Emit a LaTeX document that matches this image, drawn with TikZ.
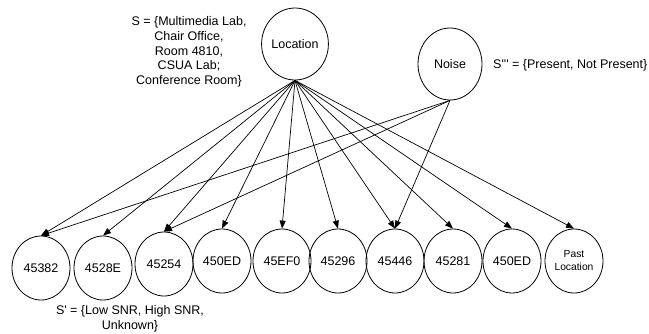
\documentclass[tikz,border=0pt]{standalone}
\usepackage{fontspec}
\setmainfont{Liberation Sans}
\usetikzlibrary{shapes}
\usetikzlibrary{arrows.meta}

\begin{document}
\begin{tikzpicture}[x=1pt,y=-1pt,
  var/.style={ellipse, draw, line width=0.8pt, minimum width=58pt, minimum height=64pt, inner sep=0pt, font=\fontsize{12.5}{15}\selectfont},
  parent/.style={var, minimum width=64pt, minimum height=72pt},
  states/.style={align=center, font=\fontsize{12.5}{14.7}\selectfont},
  dep/.style={-{Triangle[length=8pt,width=6pt]}, line width=0.7pt}]
\useasboundingbox (0,0) rectangle (649,333);
\node [parent] (loc) at (295,44) {Location};
\node [parent] (noise) at (450,64) {Noise};
\node [states] (sloc) at (189,52) {S = \{Multimedia Lab,\\ Chair Office,\\ Room 4810,\\ CSUA Lab;\\ Conference Room\}};
\node [states, anchor=west, inner sep=0pt] (snoise) at (493,65) {S\textquotesingle\textquotesingle\textquotesingle{} = \{Present, Not Present\}};
\node [var] (a1) at (41,268) {45382};
\node [var] (a2) at (103,268) {4528E};
\node [var] (a3) at (164,264) {45254};
\node [var] (a4) at (222,261) {450ED};
\node [var] (a5) at (282,261) {45EF0};
\node [var] (a6) at (338,261) {45296};
\node [var] (a7) at (395,261) {45446};
\node [var] (a8) at (453,261) {45281};
\node [var] (a9) at (512,261) {450ED};
\node [var, align=center, font=\fontsize{10.3}{13}\selectfont] (past) at (574,261) {Past\\ Location};
\node [states] (sap) at (130,319) {S\textquotesingle{} = \{Low SNR, High SNR,\\ Unknown\}};
\draw [dep] (loc.south) -- (a1.north);
\draw [dep] (loc.south) -- (a2.north);
\draw [dep] (loc.south) -- (a3.north);
\draw [dep] (loc.south) -- (a4.north);
\draw [dep] (loc.south) -- (a5.north);
\draw [dep] (loc.south) -- (a6.north);
\draw [dep] (loc.south) -- (a7.north);
\draw [dep] (loc.south) -- (a8.north);
\draw [dep] (loc.south) -- (a9.north);
\draw [dep] (loc.south) -- (past.north);
\draw [dep] (noise.south) -- (a1.north);
\draw [dep] (noise.south) -- (a3.north);
\draw [dep] (noise.south) -- (a7.north);
\end{tikzpicture}
\end{document}
